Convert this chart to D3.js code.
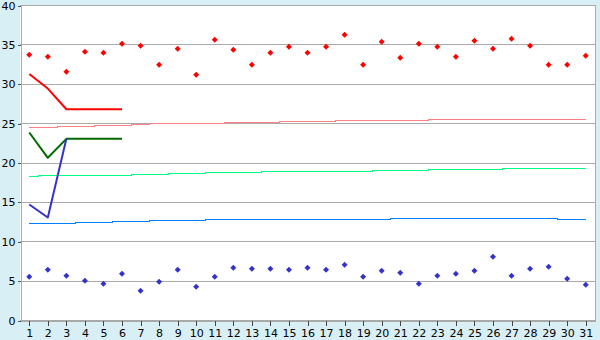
<!DOCTYPE html>
<html>
<head>
<meta charset="utf-8">
<script src="https://cdn.jsdelivr.net/npm/d3@7"></script>
<style>
  html, body { margin: 0; padding: 0; background: #d9eff6; }
  svg { display: block; }
  text { font-family: "DejaVu Sans", Verdana, sans-serif; font-size: 11px; fill: #000; }
</style>
</head>
<body>
<svg id="chart" width="600" height="340"></svg>
<script>
// ---- data ----
const days = [1,2,3,4,5,6,7,8,9,10,11,12,13,14,15,16,17,18,19,20,21,22,23,24,25,26,27,28,29,30,31];
const yTicks = [0,5,10,15,20,25,30,35,40];

const highPoints = [33.74,33.48,31.58,34.12,33.99,35.13,34.88,32.47,34.5,31.2,
                    35.64,34.37,32.47,33.99,34.75,33.99,34.75,36.28,32.47,35.39,
                    33.36,35.13,34.75,33.48,35.51,34.5,35.77,34.88,32.47,32.47,33.61];
const lowPoints  = [5.55,6.43,5.67,5.04,4.66,5.93,3.77,4.91,6.43,4.28,
                    5.55,6.69,6.56,6.56,6.43,6.69,6.43,7.07,5.55,6.31,
                    6.05,4.66,5.67,5.93,6.31,8.09,5.67,6.56,6.82,5.29,4.53];

const pinkTrend  = [24.51,24.51,24.63,24.63,24.76,24.76,24.89,25.02,25.02,25.02,
                    25.02,25.14,25.14,25.14,25.27,25.27,25.27,25.40,25.40,25.40,
                    25.40,25.40,25.52,25.52,25.52,25.52,25.52,25.52,25.52,25.52,25.52];
const greenTrend = [18.29,18.41,18.41,18.41,18.41,18.41,18.54,18.54,18.67,18.67,
                    18.79,18.79,18.79,18.92,18.92,18.92,18.92,18.92,18.92,19.05,
                    19.05,19.05,19.17,19.17,19.17,19.17,19.30,19.30,19.30,19.30,19.30];
const blueTrend  = [12.32,12.32,12.32,12.44,12.44,12.57,12.57,12.70,12.70,12.70,
                    12.83,12.83,12.83,12.83,12.83,12.83,12.83,12.83,12.83,12.83,
                    12.95,12.95,12.95,12.95,12.95,12.95,12.95,12.95,12.95,12.83,12.83];

const redLine   = [31.3, 29.45, 26.83, 26.83, 26.83, 26.83];
const greenLine = [23.87, 20.66, 23.07, 23.07, 23.07, 23.07];
const blueLine  = [14.73, 13.08, 23.07];

// ---- layout ----
const svg = d3.select("#chart");
const mLeft = 20, mRight = 595, mTop = 5, mBottom = 320;

const x = d3.scalePoint().domain(days).range([mLeft, mRight]).padding(0.5);
const y = d3.scaleLinear().domain([0, 40]).range([mBottom + 0.5, mTop + 0.5]);

// plot background
svg.append("rect").attr("x", mLeft).attr("y", mTop).attr("width", mRight - mLeft).attr("height", mBottom - mTop)
  .attr("fill", "#ffffff");

// gridlines
svg.append("g").selectAll("line").data(yTicks).join("line")
  .attr("x1", mLeft).attr("x2", mRight + 0.5)
  .attr("y1", d => y(d)).attr("y2", d => y(d))
  .attr("stroke", "#aaaaaa").attr("stroke-width", 1).attr("shape-rendering", "crispEdges");

// right border
svg.append("line").attr("x1", mRight + 0.5).attr("x2", mRight + 0.5).attr("y1", mTop).attr("y2", mBottom + 1)
  .attr("stroke", "#aaaaaa").attr("shape-rendering", "crispEdges");

// axes
const yAxis = svg.append("g").attr("transform", `translate(${mLeft + 0.5},0)`)
  .call(d3.axisLeft(y).tickValues(yTicks).tickSize(3).tickPadding(2));
yAxis.select(".domain").attr("stroke", "#aaaaaa").attr("shape-rendering", "crispEdges");
yAxis.selectAll(".tick line").attr("stroke", "#555").attr("shape-rendering", "crispEdges");
yAxis.selectAll("text").style("font-size", "11px");

const xAxis = svg.append("g").attr("transform", `translate(0,${mBottom + 0.5})`)
  .call(d3.axisBottom(x).tickSize(5).tickPadding(4).tickSizeOuter(0));
xAxis.select(".domain").attr("stroke", "#aaaaaa").attr("shape-rendering", "crispEdges");
xAxis.selectAll(".tick line").attr("stroke", "#444").attr("shape-rendering", "crispEdges");
xAxis.selectAll("text").style("font-size", "11px");

// step trend lines
function trend(data, color) {
  svg.append("path").datum(data)
    .attr("fill", "none").attr("stroke", color).attr("stroke-width", 1)
    .attr("shape-rendering", "crispEdges")
    .attr("d", d3.line().curve(d3.curveStep).x((d, i) => x(days[i])).y(d => y(d)));
}
trend(pinkTrend, "#ff8080");
trend(greenTrend, "#00ff80");
trend(blueTrend, "#0080ff");

// thick lines
function thick(data, color) {
  svg.append("path").datum(data)
    .attr("fill", "none").attr("stroke", color).attr("stroke-width", 2)
    .attr("stroke-linejoin", "round")
    .attr("d", d3.line().x((d, i) => x(days[i])).y(d => y(d)));
}
thick(greenLine, "#006a00");
thick(blueLine, "#3333cc");
thick(redLine, "#ff0000");

// markers
const sym = d3.symbol().type(d3.symbolSquare).size(18);
function markers(data, color) {
  svg.append("g").selectAll("path").data(data).join("path")
    .attr("d", sym)
    .attr("transform", (d, i) => `translate(${x(days[i])},${y(d)}) rotate(45)`)
    .attr("fill", color);
}
markers(highPoints, "#ff0000");
markers(lowPoints, "#3333cc");
</script>
</body>
</html>
